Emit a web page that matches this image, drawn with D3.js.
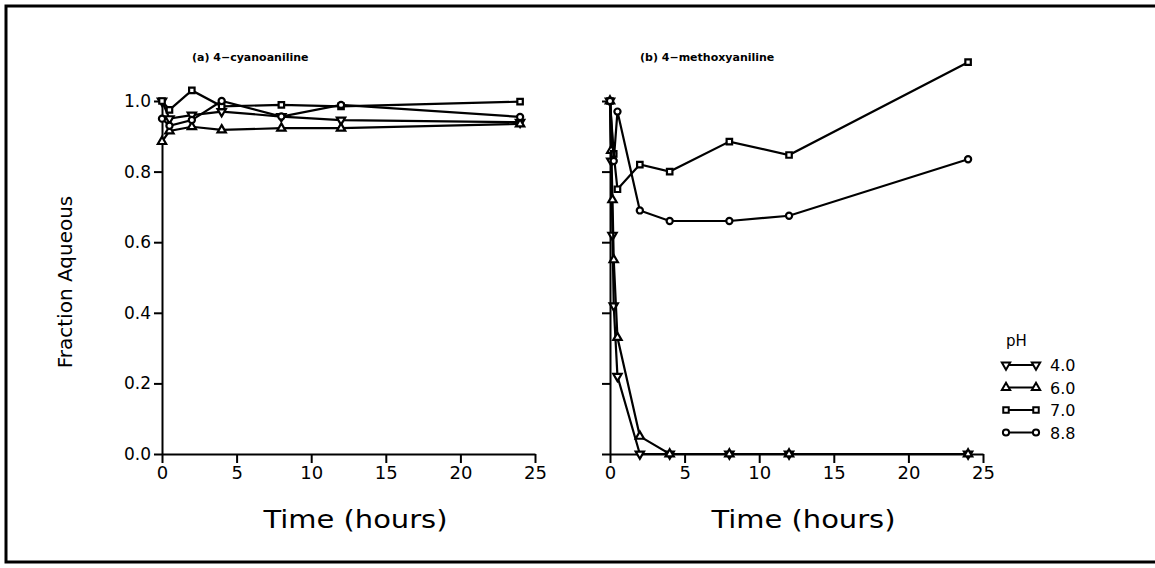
<!DOCTYPE html>
<html lang="en">
<head>
<meta charset="utf-8">
<title>Fraction Aqueous</title>
<script src="https://cdn.jsdelivr.net/npm/d3@7"></script>
<style>
  body { margin: 0; background: #fff; }
  svg text { fill: #000; }
  .tick text { font-family: "DejaVu Sans", sans-serif; }
  .axis path, .axis line { stroke: #000; stroke-width: 2; }
  .series path.line { fill: none; stroke: #000; stroke-width: 2.2; }
</style>
</head>
<body>
<script>
  // data
  const phLevels = ["4.0", "6.0", "7.0", "8.8"];

  // (a) 4-cyanoaniline, same sampling times for all pH
  const cyanoHours = [0, 0.5, 2, 4, 8, 12, 24];
  const cyanoPH40 = [1.0, 0.95, 0.96, 0.97, 0.956, 0.946, 0.94];
  const cyanoPH60 = [0.885, 0.915, 0.927, 0.918, 0.923, 0.923, 0.935];
  const cyanoPH70 = [1.0, 0.975, 1.03, 0.985, 0.989, 0.985, 0.998];
  const cyanoPH88 = [0.95, 0.93, 0.946, 1.0, 0.956, 0.989, 0.955];

  // (b) 4-methoxyaniline
  const methoxyHoursFast = [0, 0.083, 0.167, 0.25, 0.5, 2, 4, 8, 12, 24];
  const methoxyPH40 = [1.0, 0.83, 0.62, 0.42, 0.22, 0.0, 0.0, 0.0, 0.0, 0.0];
  const methoxyPH60 = [1.0, 0.86, 0.72, 0.55, 0.33, 0.05, 0.0, 0.0, 0.0, 0.0];
  const methoxyHoursSlow = [0, 0.25, 0.5, 2, 4, 8, 12, 24];
  const methoxyPH70 = [1.0, 0.85, 0.75, 0.82, 0.80, 0.885, 0.847, 1.11];
  const methoxyPH88 = [1.0, 0.83, 0.97, 0.69, 0.66, 0.66, 0.675, 0.835];

  const xTicks = [0, 5, 10, 15, 20, 25];
  const yTicks = [0, 0.2, 0.4, 0.6, 0.8, 1.0];

  const zip = (xs, ys) => xs.map((x, i) => ({x: x, y: ys[i]}));

  const panels = [
    {title: "(a) 4\u2212cyanoaniline", left: 162, labels: true, series: [
      zip(cyanoHours, cyanoPH40), zip(cyanoHours, cyanoPH60),
      zip(cyanoHours, cyanoPH70), zip(cyanoHours, cyanoPH88)]},
    {title: "(b) 4\u2212methoxyaniline", left: 610, labels: false, series: [
      zip(methoxyHoursFast, methoxyPH40), zip(methoxyHoursFast, methoxyPH60),
      zip(methoxyHoursSlow, methoxyPH70), zip(methoxyHoursSlow, methoxyPH88)]}
  ];

  const width = 1155, height = 568;
  const plotW = 373, plotTop = 101, plotBottom = 454;

  // one marker per pH: down triangle, up triangle, square, circle
  const symbolFor = [
    {type: d3.symbolTriangle, rot: 180},
    {type: d3.symbolTriangle, rot: 0},
    {type: d3.symbolSquare, rot: 0},
    {type: d3.symbolCircle, rot: 0}
  ];
  const symPath = (i) => d3.symbol().type(symbolFor[i].type).size(30)();

  const svg = d3.select("body").append("svg")
    .attr("width", width).attr("height", height);

  // scanned page frame
  svg.append("path")
    .attr("d", "M1160,6 H6 V562 H1160")
    .attr("fill", "none").attr("stroke", "#000").attr("stroke-width", 3);

  const y = d3.scaleLinear().domain([0, 1]).range([plotBottom, plotTop]);

  panels.forEach(function(p) {
    const x = d3.scaleLinear().domain([0, 25]).range([p.left, p.left + plotW]);
    const g = svg.append("g");

    g.append("g").attr("class", "axis")
      .attr("transform", "translate(0," + plotBottom + ")")
      .call(d3.axisBottom(x).tickValues(xTicks).tickSize(9).tickSizeOuter(0).tickPadding(3))
      .call(s => s.selectAll(".tick text").attr("font-size", 18));

    const ya = g.append("g").attr("class", "axis")
      .attr("transform", "translate(" + p.left + ",0)")
      .call(d3.axisLeft(y).tickValues(yTicks).tickSize(8).tickSizeOuter(0)
        .tickFormat(p.labels ? d3.format(".1f") : ""));
    ya.selectAll(".tick text").attr("font-size", 17);

    g.append("text")
      .attr("x", p.left + 30).attr("y", 61)
      .attr("font-family", "DejaVu Sans, sans-serif")
      .attr("font-weight", "bold").attr("font-size", 11)
      .text(p.title);

    g.append("text")
      .attr("x", p.left + plotW / 2 + 7).attr("y", 528)
      .attr("text-anchor", "middle")
      .attr("font-family", "DejaVu Sans Condensed, DejaVu Sans, sans-serif")
      .attr("font-size", 24)
      .attr("textLength", 184).attr("lengthAdjust", "spacingAndGlyphs")
      .text("Time (hours)");

    const line = d3.line().x(d => x(d.x)).y(d => y(d.y));

    p.series.forEach(function(data, i) {
      const sg = g.append("g").attr("class", "series");
      sg.append("path").attr("class", "line").attr("d", line(data));
      sg.selectAll("path.mark")
        .data(data)
        .join("path")
        .attr("class", "mark")
        .attr("d", symPath(i))
        .attr("transform", d => "translate(" + x(d.x) + "," + y(d.y) + ") rotate(" + symbolFor[i].rot + ")")
        .attr("fill", "#fff").attr("stroke", "#000").attr("stroke-width", 2.2);
    });
  });

  // y axis title
  svg.append("text")
    .attr("transform", "translate(72,282) rotate(-90)")
    .attr("text-anchor", "middle")
    .attr("font-family", "DejaVu Sans, sans-serif")
    .attr("font-size", 20)
    .text("Fraction Aqueous");

  // legend
  const lg = svg.append("g").attr("transform", "translate(1006,0)");
  lg.append("text").attr("x", 0).attr("y", 346)
    .attr("font-family", "DejaVu Sans, sans-serif").attr("font-size", 15)
    .text("pH");
  phLevels.forEach(function(lab, i) {
    const ly = 365 + i * 22.5;
    lg.append("line").attr("x1", 0).attr("x2", 30).attr("y1", ly).attr("y2", ly)
      .attr("stroke", "#000").attr("stroke-width", 2);
    [0, 30].forEach(function(sx) {
      lg.append("path").attr("d", symPath(i))
        .attr("transform", "translate(" + sx + "," + ly + ") rotate(" + symbolFor[i].rot + ")")
        .attr("fill", "#fff").attr("stroke", "#000").attr("stroke-width", 2);
    });
    lg.append("text").attr("x", 44).attr("y", ly + 6)
      .attr("font-family", "DejaVu Sans, sans-serif").attr("font-size", 16)
      .text(lab);
  });
</script>
</body>
</html>
